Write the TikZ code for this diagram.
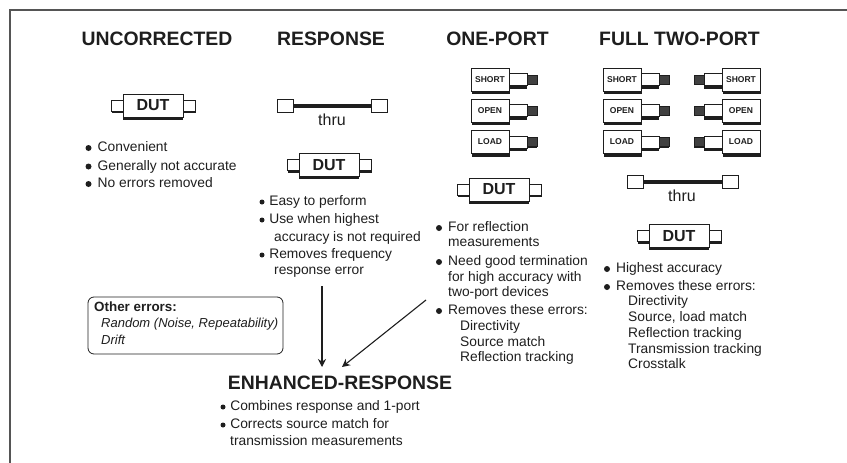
\documentclass[tikz,border=0pt]{standalone}
\usepackage{fontspec}
\setmainfont{Liberation Sans}
\usetikzlibrary{positioning,shadows,arrows.meta}

\definecolor{inkdark}{HTML}{1E1E1E}
\definecolor{framegray}{HTML}{555555}

\tikzset{
  heading/.style={inner sep=0pt, text=inkdark, font=\bfseries\fontsize{19.4}{20}\selectfont},
  bodytext/.style={anchor=west, inner sep=0pt, text=inkdark, text height=10pt, text depth=3pt, font=\fontsize{13.8}{14}\selectfont},
  bulletdot/.style={circle, fill=inkdark, inner sep=0pt, minimum size=6pt},
  smalldot/.style={circle, fill=inkdark, inner sep=0pt, minimum size=5pt},
  dutbody/.style={draw=inkdark, fill=white, line width=1pt, inner sep=0pt, outer sep=0pt, minimum width=60pt, minimum height=23pt,
    text=inkdark, font=\bfseries\fontsize{16}{16}\selectfont, drop shadow={shadow xshift=0pt, shadow yshift=-2.6pt, opacity=1, fill=inkdark}},
  dutport/.style={draw=inkdark, fill=white, line width=1pt, inner sep=0pt, outer sep=0pt, minimum width=12pt, minimum height=11pt,
    drop shadow={shadow xshift=1.4pt, shadow yshift=-2pt, opacity=1, fill=inkdark}},
  thruport/.style={draw=inkdark, fill=white, line width=1pt, inner sep=0pt, outer sep=0pt, minimum width=16pt, minimum height=13pt},
  thruline/.style={draw=inkdark, line width=3.4pt},
  thrulabel/.style={inner sep=0pt, text=inkdark, font=\fontsize{16}{16}\selectfont},
  stdbox/.style={draw=inkdark, fill=white, line width=1pt, inner sep=0pt, outer sep=0pt, minimum width=38pt, minimum height=23pt,
    text=inkdark, font=\bfseries\fontsize{8.5}{9}\selectfont, drop shadow={shadow xshift=1pt, shadow yshift=-3pt, opacity=1, fill=inkdark}},
  stdport/.style={draw=inkdark, fill=white, line width=1pt, inner sep=0pt, outer sep=0pt, minimum width=18pt, minimum height=12pt,
    drop shadow={shadow xshift=0pt, shadow yshift=-3.4pt, opacity=1, fill=inkdark}},
  stdcap/.style={fill=black!75, draw=inkdark, line width=1pt, inner sep=0pt, outer sep=0pt, minimum width=10pt, minimum height=9pt,
    drop shadow={shadow xshift=0pt, shadow yshift=-1.4pt, opacity=1, fill=inkdark}},
  errorbox/.style={draw=inkdark, line width=.8pt, rounded corners=6pt},
  errorhead/.style={anchor=west, inner sep=0pt, text=inkdark, font=\bfseries\fontsize{13.4}{14}\selectfont},
  erroritem/.style={anchor=west, inner sep=0pt, text=inkdark, font=\itshape\fontsize{13}{14}\selectfont},
  flowarrow/.style={draw=inkdark, line width=1.1pt, -{Stealth[length=8pt,width=8pt]}}
}

% DUT with its two ports
\newcommand{\dutunit}[3]{
  \node[dutbody] (#1) at (#2,#3) {DUT};
  \node[dutport, left=0pt of #1] (#1l) {};
  \node[dutport, right=0pt of #1] (#1r) {};
}
% calibration standards, pointing right or left
\newcommand{\stdright}[4]{
  \node[stdbox] (#1) at (#2,#3) {#4};
  \node[stdport, right=0pt of #1] (#1p) {};
  \node[stdcap, right=0pt of #1p] (#1c) {};
}
\newcommand{\stdleft}[4]{
  \node[stdbox] (#1) at (#2,#3) {#4};
  \node[stdport, left=0pt of #1] (#1p) {};
  \node[stdcap, left=0pt of #1p] (#1c) {};
}
\newcommand{\thruunit}[4]{
  \node[thruport] (#1l) at (#2,#3) {};
  \node[thruport] (#1r) at (#4,#3) {};
  \draw[thruline] (#1l) -- (#1r);
}
\newcommand{\bulletitem}[4]{
  \node[bulletdot] (#1d) at (#2,#3) {};
  \node[bodytext, right=5.8pt of #1d] (#1) {#4};
}
\newcommand{\smallitem}[4]{
  \node[smalldot] (#1d) at (#2,#3) {};
  \node[bodytext, right=4.4pt of #1d] (#1) {#4};
}

\begin{document}
\begin{tikzpicture}[x=1pt,y=-1pt]
    \useasboundingbox (0,0) rectangle (847,463);

    % frame, top and left only
    \coordinate (frametop) at (847,10);
    \coordinate (framecorner) at (10,10);
    \coordinate (framebottom) at (10,463);
    \draw[framegray, line width=2pt] (frametop) -- (framecorner) -- (framebottom);

    \node[heading] (uncorrected) at (157,39) {UNCORRECTED};
    \node[heading] (response) at (331,39) {RESPONSE};
    \node[heading] (oneport) at (497.5,39) {ONE-PORT};
    \node[heading] (twoport) at (679.5,39) {FULL TWO-PORT};
    \node[heading] (enhanced) at (340,383) {ENHANCED-RESPONSE};

    % uncorrected
    \dutunit{dutA}{153}{105.5}
    \bulletitem{unA}{88.5}{148}{Convenient}
    \bulletitem{unB}{88.5}{166.5}{Generally not accurate}
    \bulletitem{unC}{88.5}{184}{No errors removed}

    % response
    \thruunit{thruA}{285}{106}{379.5}
    \node[thrulabel] (thruAt) at (332,119.5) {thru};
    \dutunit{dutB}{329}{165}
    \smallitem{reA}{262}{202}{Easy to perform}
    \smallitem{reB}{262}{220}{Use when highest}
    \node[bodytext] (reBb) at (274,237.5) {accuracy is not required};
    \smallitem{reC}{262}{255}{Removes frequency}
    \node[bodytext] (reCb) at (274,271) {response error};

    % one-port
    \stdright{opS}{490}{79.5}{SHORT}
    \stdright{opO}{490}{110.5}{OPEN}
    \stdright{opL}{490}{142}{LOAD}
    \dutunit{dutC}{499}{189.5}
    \bulletitem{opA}{439}{228}{For reflection}
    \node[bodytext] (opAb) at (448,243) {measurements};
    \bulletitem{opB}{439}{262}{Need good termination}
    \node[bodytext] (opBb) at (448,278) {for high accuracy with};
    \node[bodytext] (opBc) at (448,293) {two-port devices};
    \bulletitem{opC}{439}{311}{Removes these errors:}
    \node[bodytext] (opCa) at (460,327) {Directivity};
    \node[bodytext] (opCb) at (460,343) {Source match};
    \node[bodytext] (opCc) at (460,358) {Reflection tracking};

    % full two-port
    \stdright{tpS}{622}{79.5}{SHORT}
    \stdright{tpO}{622}{110.5}{OPEN}
    \stdright{tpL}{622}{142}{LOAD}
    \stdleft{tqS}{741}{79.5}{SHORT}
    \stdleft{tqO}{741}{110.5}{OPEN}
    \stdleft{tqL}{741}{142}{LOAD}
    \thruunit{thruB}{635}{182}{730}
    \node[thrulabel] (thruBt) at (682,196) {thru};
    \dutunit{dutD}{679}{236}
    \bulletitem{tpA}{607}{269}{Highest accuracy}
    \bulletitem{tpB}{607}{287}{Removes these errors:}
    \node[bodytext] (tpBa) at (628,302) {Directivity};
    \node[bodytext] (tpBb) at (628,318) {Source, load match};
    \node[bodytext] (tpBc) at (628,334) {Reflection tracking};
    \node[bodytext] (tpBd) at (628,350) {Transmission tracking};
    \node[bodytext] (tpBe) at (628,365) {Crosstalk};

    % other errors
    \coordinate (errA) at (88,297);
    \coordinate (errB) at (283,354);
    \draw[errorbox] (errA) rectangle (errB);
    \node[errorhead] (errhead) at (94,307) {Other errors:};
    \node[erroritem] (errrand) at (101,324) {Random (Noise, Repeatability)};
    \node[erroritem] (errdrift) at (101,340) {Drift};

    % enhanced-response
    \smallitem{enA}{223}{407}{Combines response and 1-port}
    \smallitem{enB}{223}{425}{Corrects source match for}
    \node[bodytext] (enBb) at (230,442) {transmission measurements};

    \coordinate (arrowAstart) at (322,286);
    \coordinate (arrowAend) at (322,367);
    \coordinate (arrowBstart) at (426,300);
    \coordinate (arrowBend) at (342,367);
    \draw[flowarrow] (arrowAstart) -- (arrowAend);
    \draw[flowarrow] (arrowBstart) -- (arrowBend);

\end{tikzpicture}
\end{document}
